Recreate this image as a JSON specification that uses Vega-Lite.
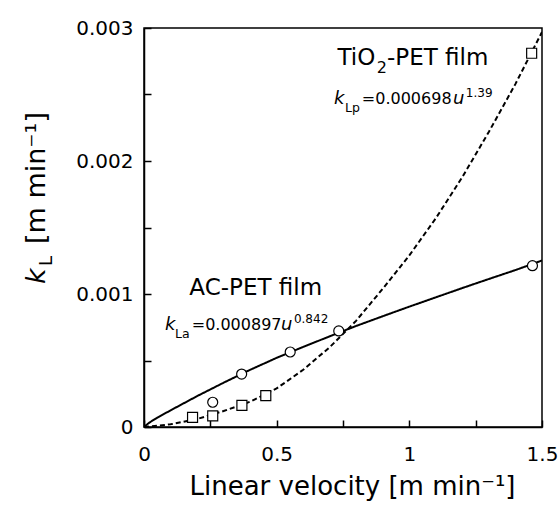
{
  "$schema": "https://vega.github.io/schema/vega-lite/v6.json",
  "width": 398,
  "height": 399,
  "autosize": {"type": "none"},
  "padding": {"left": 144, "top": 28, "right": 16, "bottom": 81},
  "background": "white",
  "config": {
    "font": "DejaVu Sans",
    "view": {"stroke": "black", "strokeWidth": 1.5},
    "axis": {
      "grid": false,
      "tickSize": -7,
      "tickWidth": 1.5,
      "tickColor": "black",
      "domainColor": "black",
      "domainWidth": 1.5,
      "labelFontSize": 20,
      "labelColor": "black",
      "labelFlush": false,
      "labelOverlap": false,
      "titleColor": "black",
      "titleFontWeight": "normal"
    }
  },
  "datasets": {
    "curves": [
      {"series": "AC", "x": 0, "y": 0},
      {"series": "AC", "x": 0.02, "y": 0.000033},
      {"series": "AC", "x": 0.05, "y": 0.00007},
      {"series": "AC", "x": 0.1, "y": 0.000125},
      {"series": "AC", "x": 0.2, "y": 0.000232},
      {"series": "AC", "x": 0.3, "y": 0.000333},
      {"series": "AC", "x": 0.4, "y": 0.00043},
      {"series": "AC", "x": 0.5, "y": 0.00052},
      {"series": "AC", "x": 0.6, "y": 0.000602},
      {"series": "AC", "x": 0.7, "y": 0.000682},
      {"series": "AC", "x": 0.8, "y": 0.00076},
      {"series": "AC", "x": 0.9, "y": 0.000833},
      {"series": "AC", "x": 1.0, "y": 0.000905},
      {"series": "AC", "x": 1.1, "y": 0.000975},
      {"series": "AC", "x": 1.2, "y": 0.001045},
      {"series": "AC", "x": 1.3, "y": 0.001113},
      {"series": "AC", "x": 1.4, "y": 0.00118},
      {"series": "AC", "x": 1.5, "y": 0.001252},
      {"series": "TiO2", "x": 0, "y": 0},
      {"series": "TiO2", "x": 0.1, "y": 0.00002},
      {"series": "TiO2", "x": 0.2, "y": 0.00006},
      {"series": "TiO2", "x": 0.3, "y": 0.00012},
      {"series": "TiO2", "x": 0.4, "y": 0.00019},
      {"series": "TiO2", "x": 0.5, "y": 0.00029},
      {"series": "TiO2", "x": 0.6, "y": 0.00043},
      {"series": "TiO2", "x": 0.7, "y": 0.0006},
      {"series": "TiO2", "x": 0.8, "y": 0.0008},
      {"series": "TiO2", "x": 0.9, "y": 0.00104},
      {"series": "TiO2", "x": 1.0, "y": 0.00129},
      {"series": "TiO2", "x": 1.1, "y": 0.00157},
      {"series": "TiO2", "x": 1.2, "y": 0.00188},
      {"series": "TiO2", "x": 1.3, "y": 0.00222},
      {"series": "TiO2", "x": 1.4, "y": 0.00258},
      {"series": "TiO2", "x": 1.5, "y": 0.00297}
    ],
    "points": [
      {"series": "AC", "x": 0.259, "y": 0.000186},
      {"series": "AC", "x": 0.368, "y": 0.000398},
      {"series": "AC", "x": 0.551, "y": 0.000564},
      {"series": "AC", "x": 0.734, "y": 0.000722},
      {"series": "AC", "x": 1.464, "y": 0.001213},
      {"series": "TiO2", "x": 0.183, "y": 0.000073},
      {"series": "TiO2", "x": 0.259, "y": 0.000083},
      {"series": "TiO2", "x": 0.369, "y": 0.000163},
      {"series": "TiO2", "x": 0.459, "y": 0.000236},
      {"series": "TiO2", "x": 1.461, "y": 0.00281}
    ],
    "bigText": [
      {"x": 0.729, "y": 0.002722, "t": "TiO"},
      {"x": 0.916, "y": 0.002722, "t": "-PET film"},
      {"x": 0.171, "y": 0.000992, "t": "AC-PET film"}
    ],
    "bigSub": [
      {"x": 0.877, "y": 0.002722, "t": "2"}
    ],
    "eqItalic": [
      {"x": 0.716, "y": 0.002429, "t": "k"},
      {"x": 1.165, "y": 0.002429, "t": "u"},
      {"x": 0.079, "y": 0.000729, "t": "k"},
      {"x": 0.516, "y": 0.000729, "t": "u"}
    ],
    "eqNormal": [
      {"x": 0.821, "y": 0.002429, "t": "=0.000698"},
      {"x": 0.18, "y": 0.000729, "t": "=0.000897"}
    ],
    "eqSub": [
      {"x": 0.758, "y": 0.002429, "t": "Lp"},
      {"x": 0.117, "y": 0.000729, "t": "La"}
    ],
    "eqSup": [
      {"x": 1.213, "y": 0.002429, "t": "1.39"},
      {"x": 0.565, "y": 0.000729, "t": "0.842"}
    ],
    "yTitleK": [
      {"x": -0.373, "y": 0.001075, "t": "k"}
    ],
    "yTitleSub": [
      {"x": -0.347, "y": 0.00121, "t": "L"}
    ],
    "yTitleMain": [
      {"x": -0.373, "y": 0.001376, "t": "[m min⁻¹]"}
    ]
  },
  "encoding": {
    "x": {
      "field": "x",
      "type": "quantitative",
      "scale": {"domain": [0, 1.5], "nice": false, "zero": false},
      "axis": {
        "values": [0, 0.25, 0.5, 0.75, 1, 1.25, 1.5],
        "labelExpr": "datum.value % 0.5 === 0 ? format(datum.value, '~g') : ''",
        "labelPadding": 24,
        "labelBaseline": "top",
        "title": "Linear velocity [m min⁻¹]",
        "titleFontSize": 26,
        "titleX": 208,
        "titleY": 67,
        "titleAlign": "center",
        "titleBaseline": "alphabetic"
      }
    },
    "y": {
      "field": "y",
      "type": "quantitative",
      "scale": {"domain": [0, 0.003], "nice": false, "zero": false},
      "axis": {
        "values": [0, 0.0005, 0.001, 0.0015, 0.002, 0.0025, 0.003],
        "labelExpr": "round(datum.value * 10000) % 10 === 0 ? (datum.value === 0 ? '0' : format(datum.value, '.3f')) : ''",
        "labelPadding": 18,
        "title": null
      }
    }
  },
  "layer": [
    {
      "data": {"name": "curves"},
      "mark": {"type": "line", "color": "black", "strokeWidth": 2, "clip": true},
      "encoding": {
        "detail": {"field": "series"},
        "strokeDash": {
          "field": "series",
          "type": "nominal",
          "scale": {"domain": ["AC", "TiO2"], "range": [[1, 0], [5, 3]]},
          "legend": null
        }
      }
    },
    {
      "data": {"name": "points"},
      "mark": {"type": "point", "filled": true, "fill": "white", "stroke": "black", "strokeWidth": 1.2, "size": 100, "opacity": 1},
      "encoding": {
        "shape": {
          "field": "series",
          "type": "nominal",
          "scale": {"domain": ["AC", "TiO2"], "range": ["circle", "square"]},
          "legend": null
        }
      }
    },
    {
      "data": {"name": "bigText"},
      "mark": {"type": "text", "fontSize": 23, "align": "left", "baseline": "alphabetic", "color": "black"},
      "encoding": {"text": {"field": "t"}}
    },
    {
      "data": {"name": "bigSub"},
      "mark": {"type": "text", "fontSize": 16, "align": "left", "baseline": "alphabetic", "dy": 8, "color": "black"},
      "encoding": {"text": {"field": "t"}}
    },
    {
      "data": {"name": "eqItalic"},
      "mark": {"type": "text", "fontSize": 18, "fontStyle": "italic", "align": "left", "baseline": "alphabetic", "color": "black"},
      "encoding": {"text": {"field": "t"}}
    },
    {
      "data": {"name": "eqNormal"},
      "mark": {"type": "text", "fontSize": 16, "align": "left", "baseline": "alphabetic", "color": "black"},
      "encoding": {"text": {"field": "t"}}
    },
    {
      "data": {"name": "eqSub"},
      "mark": {"type": "text", "fontSize": 12.5, "align": "left", "baseline": "alphabetic", "dy": 8, "color": "black"},
      "encoding": {"text": {"field": "t"}}
    },
    {
      "data": {"name": "eqSup"},
      "mark": {"type": "text", "fontSize": 12, "align": "left", "baseline": "alphabetic", "dy": -7, "color": "black"},
      "encoding": {"text": {"field": "t"}}
    },
    {
      "data": {"name": "yTitleK"},
      "mark": {"type": "text", "fontSize": 27, "fontStyle": "italic", "angle": 270, "align": "left", "baseline": "alphabetic", "color": "black"},
      "encoding": {"text": {"field": "t"}}
    },
    {
      "data": {"name": "yTitleSub"},
      "mark": {"type": "text", "fontSize": 18, "angle": 270, "align": "left", "baseline": "alphabetic", "color": "black"},
      "encoding": {"text": {"field": "t"}}
    },
    {
      "data": {"name": "yTitleMain"},
      "mark": {"type": "text", "fontSize": 27, "angle": 270, "align": "left", "baseline": "alphabetic", "color": "black"},
      "encoding": {"text": {"field": "t"}}
    }
  ]
}
